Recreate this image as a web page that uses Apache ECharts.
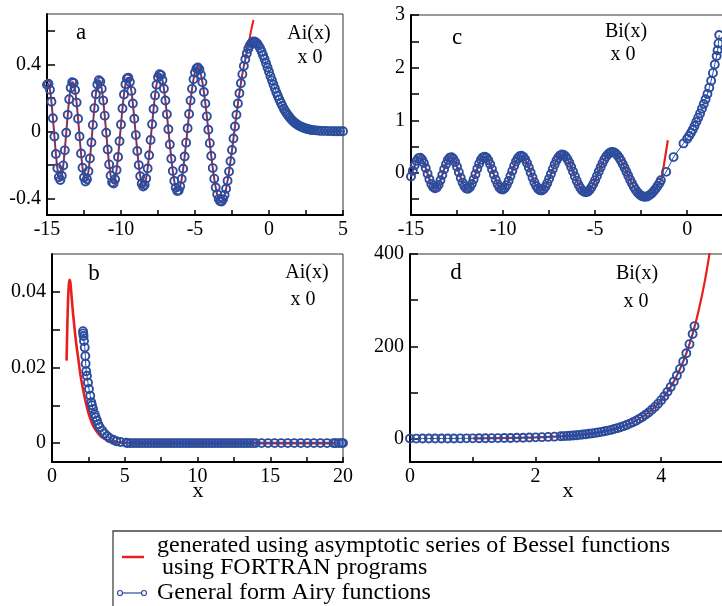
<!DOCTYPE html>
<html><head><meta charset="utf-8">
<script src="https://cdn.jsdelivr.net/npm/echarts@6/dist/echarts.min.js"></script>
<style>html,body{margin:0;padding:0;background:#fff}#c{width:722px;height:606px}</style>
</head><body><div id="c"></div>
<script>
// ---------- data ----------
const oscX = [-15,-14.9,-14.8,-14.7,-14.6,-14.5,-14.4,-14.3,-14.2,-14.1,-14,-13.9,-13.8,-13.7,-13.6,-13.5,-13.4,-13.3,-13.2,-13.1,-13,-12.9,-12.8,-12.7,-12.6,-12.5,-12.4,-12.3,-12.2,-12.1,-12,-11.9,-11.8,-11.7,-11.6,-11.5,-11.4,-11.3,-11.2,-11.1,-11,-10.9,-10.8,-10.7,-10.6,-10.5,-10.4,-10.3,-10.2,-10.1,-10,-9.9,-9.8,-9.7,-9.6,-9.5,-9.4,-9.3,-9.2,-9.1,-9,-8.9,-8.8,-8.7,-8.6,-8.5,-8.4,-8.3,-8.2,-8.1,-8,-7.9,-7.8,-7.7,-7.6,-7.5,-7.4,-7.3,-7.2,-7.1,-7,-6.9,-6.8,-6.7,-6.6,-6.5,-6.4,-6.3,-6.2,-6.1,-6,-5.9,-5.8,-5.7,-5.6,-5.5,-5.4,-5.3,-5.2,-5.1,-5,-4.9,-4.8,-4.7,-4.6,-4.5,-4.4,-4.3,-4.2,-4.1,-4,-3.9,-3.8,-3.7,-3.6,-3.5,-3.4,-3.3,-3.2,-3.1,-3,-2.9,-2.8,-2.7,-2.6,-2.5,-2.4,-2.3,-2.2,-2.1,-2];
const oscAi = [0.278,0.284,0.248,0.176,0.078,-0.031,-0.136,-0.221,-0.275,-0.291,-0.266,-0.204,-0.114,-0.009,0.098,0.191,0.260,0.293,0.288,0.246,0.171,0.075,-0.031,-0.133,-0.218,-0.276,-0.300,-0.287,-0.239,-0.163,-0.067,0.038,0.138,0.221,0.279,0.305,0.297,0.254,0.183,0.093,-0.009,-0.109,-0.198,-0.265,-0.305,-0.312,-0.287,-0.232,-0.154,-0.060,0.040,0.136,0.219,0.280,0.315,0.319,0.294,0.241,0.166,0.075,-0.023,-0.118,-0.202,-0.269,-0.313,-0.330,-0.320,-0.282,-0.222,-0.143,-0.052,0.042,0.133,0.214,0.278,0.322,0.341,0.336,0.306,0.254,0.184,0.101,0.012,-0.079,-0.164,-0.238,-0.297,-0.338,-0.357,-0.354,-0.329,-0.285,-0.224,-0.151,-0.068,0.018,0.103,0.183,0.253,0.310,0.351,0.375,0.381,0.368,0.338,0.292,0.234,0.165,0.089,0.009,-0.071,-0.148,-0.220,-0.283,-0.336,-0.376,-0.404,-0.418,-0.419,-0.405,-0.380,-0.343,-0.296,-0.241,-0.179,-0.112,-0.043,0.028,0.098,0.166,0.227];
const oscBi = [-0.069,0.041,0.145,0.228,0.278,0.287,0.256,0.188,0.093,-0.014,-0.120,-0.209,-0.270,-0.293,-0.277,-0.224,-0.140,-0.039,0.068,0.166,0.243,0.288,0.297,0.268,0.205,0.117,0.014,-0.091,-0.184,-0.255,-0.296,-0.301,-0.272,-0.210,-0.124,-0.024,0.079,0.174,0.248,0.295,0.310,0.291,0.240,0.164,0.071,-0.031,-0.128,-0.213,-0.276,-0.311,-0.315,-0.287,-0.232,-0.154,-0.061,0.038,0.133,0.216,0.279,0.316,0.325,0.305,0.257,0.188,0.102,0.008,-0.087,-0.176,-0.249,-0.302,-0.331,-0.334,-0.310,-0.263,-0.195,-0.113,-0.021,0.071,0.158,0.235,0.294,0.333,0.349,0.342,0.312,0.261,0.194,0.114,0.027,-0.062,-0.147,-0.223,-0.286,-0.333,-0.360,-0.368,-0.356,-0.324,-0.275,-0.212,-0.138,-0.058,0.026,0.108,0.185,0.254,0.312,0.356,0.384,0.397,0.393,0.373,0.340,0.293,0.235,0.169,0.097,0.022,-0.054,-0.129,-0.199,-0.264,-0.321,-0.369,-0.407,-0.434,-0.449,-0.454,-0.451,-0.436,-0.412];

// panel a, general form beyond the oscillations
const aiNearX = [-1.9,-1.8,-1.7,-1.6,-1.5,-1.4,-1.3,-1.2,-1.1,-1.0];
const aiNearY = [0.287,0.341,0.389,0.430,0.464,0.492,0.512,0.526,0.534,0.536];
const aiRightX = [-0.9,-0.8,-0.7,-0.6,-0.5,-0.4,-0.3,-0.2,-0.1,0,0.1,0.2,0.3,0.4,0.5,0.6,0.7,0.8,0.9,1.0,1.1,1.2,1.3,1.4,1.5,1.6,1.7,1.8,1.9,2.0,2.1,2.2,2.3,2.4,2.5,2.6,2.7,2.8,2.9,3.0,3.2,3.4,3.6,3.8,4.0,4.2,4.4,4.6,4.8,5.0];
const aiRightY = [0.532,0.524,0.511,0.495,0.476,0.454,0.431,0.406,0.381,0.355,0.329,0.304,0.279,0.255,0.232,0.210,0.189,0.170,0.152,0.135,0.120,0.106,0.094,0.082,0.072,0.062,0.054,0.047,0.040,0.035,0.030,0.026,0.022,0.018,0.016,0.013,0.011,0.009,0.008,0.007,0.005,0.003,0.002,0.002,0.001,0.001,0.000,0.000,0.000,0.000];
// panel a, asymptotic (red) tail
const aiRedTailX = [-1.9,-1.8,-1.7,-1.6,-1.5,-1.4,-1.3,-1.2,-1.1,-1.05];
const aiRedTailY = [0.287,0.341,0.389,0.430,0.475,0.515,0.560,0.605,0.645,0.665];

// panel c
const biNearX = [-1.9,-1.8,-1.7,-1.6,-1.5];
const biNearY = [-0.381,-0.341,-0.296,-0.246,-0.192];
const biSparseX = [-1.43,-1.14,-0.74,-0.2];
const biSparseY = [-0.14,0.02,0.30,0.56];
const biRightX = [0,0.1,0.2,0.3,0.4,0.5,0.6,0.7,0.8,0.9,1.0,1.1,1.2,1.3,1.4,1.5,1.6,1.65,1.7,1.74];
const biRightY = [0.65,0.70,0.76,0.82,0.89,0.97,1.05,1.13,1.22,1.31,1.40,1.50,1.62,1.75,1.90,2.06,2.22,2.33,2.46,2.62];
const biRedTailX = [-1.45,-1.4,-1.35,-1.3,-1.25,-1.2,-1.15,-1.1,-1.05];
const biRedTailY = [-0.16,-0.09,-0.01,0.08,0.18,0.29,0.40,0.51,0.62];

// panel b
const bBlueX = [2.13,2.15,2.17,2.2,2.25,2.29,2.31,2.35,2.4,2.47,2.54,2.63,2.7,2.75,2.82,2.93,3.0,3.09,3.18,3.28,3.45,3.62,3.8,3.96,4.2,4.42,4.7,5.1,5.2,5.4,5.6,5.8,6,6.2,6.4,6.6,6.8,7,7.2,7.4,7.6,7.8,8,8.2,8.4,8.6,8.8,9,9.2,9.4,9.6,9.8,10,10.2,10.4,10.6,10.8,11,11.2,11.4,11.6,11.8,12,12.2,12.4,12.6,12.8,13,13.2,13.4,13.6,13.8,14,14.4,14.85,15.3,15.75,16.2,16.65,17.1,17.55,18,18.45,18.9,19.35,19.5,19.7,19.9,20];
const bBlueY = [0.0296,0.029,0.0283,0.027,0.0253,0.023,0.021,0.019,0.0178,0.016,0.0143,0.0125,0.0108,0.010,0.009,0.0077,0.0068,0.006,0.005,0.0042,0.0033,0.0025,0.0018,0.0013,0.0009,0.0005,0.0003,0.0001,0,0,0,0,0,0,0,0,0,0,0,0,0,0,0,0,0,0,0,0,0,0,0,0,0,0,0,0,0,0,0,0,0,0,0,0,0,0,0,0,0,0,0,0,0,0,0,0,0,0,0,0,0,0,0,0,0,0,0,0,0,0];
const bRedX = [1.0,1.03,1.06,1.1,1.15,1.2,1.25,1.3,1.4,1.5,1.6,1.7,1.8,1.9,2.0,2.2,2.4,2.6,2.8,3.0,3.3,3.6,4.0,4.5,5.0,6,8,10,12,14,16,18,19.5];
const bRedY = [0.0218,0.027,0.032,0.0375,0.0415,0.0432,0.0428,0.041,0.0362,0.0322,0.0285,0.0252,0.0225,0.0195,0.017,0.013,0.0095,0.0068,0.0048,0.0035,0.002,0.0012,0.0006,0.0002,0.0001,0,0,0,0,0,0,0,0];

// panel d
const dBlueX = [0,0.1,0.2,0.3,0.4,0.5,0.6,0.7,0.8,0.9,1.0,1.1,1.2,1.3,1.4,1.5,1.6,1.7,1.8,1.9,2.0,2.1,2.2,2.3,2.4,2.45,2.5,2.55,2.6,2.65,2.7,2.75,2.8,2.85,2.9,2.95,3.0,3.05,3.1,3.15,3.2,3.25,3.3,3.35,3.4,3.45,3.5,3.55,3.6,3.65,3.7,3.75,3.8,3.85,3.9,3.95,4.0,4.05,4.1,4.15,4.2,4.25,4.3,4.35,4.4,4.45,4.5,4.53];
const dBlueY = [0.615,0.660,0.706,0.753,0.802,0.854,0.911,0.973,1.042,1.120,1.207,1.305,1.421,1.553,1.704,1.879,2.081,2.313,2.582,2.894,3.298,3.74,4.26,4.87,5.58,6.0,6.48,6.95,7.45,8.03,8.67,9.37,10.13,10.97,11.87,12.91,14.04,15.23,16.49,17.93,19.5,21.3,23.2,25.3,27.6,30.2,33.1,36.1,39.5,43.3,47.5,52.1,57.2,62.9,69.2,76.2,83.8,92.4,101.8,112.3,123.9,137.0,151.4,167.5,185.2,205.0,227.0,244.0];
const dRedX = [1.0,1.2,1.4,1.6,1.8,2.0,2.2,2.4,2.6,2.8,3.0,3.2,3.4,3.6,3.8,4.0,4.1,4.2,4.3,4.4,4.5,4.6,4.7,4.8];
const dRedY = [1.21,1.42,1.70,2.08,2.58,3.30,4.26,5.58,7.45,10.13,14.04,19.5,27.6,39.5,57.2,83.8,101.8,123.9,151.4,185.2,227,280,345,427];

// tick positions
const aXMajor = [-15,-10,-5,0,5], aXMinor = [-12.5,-7.5,-2.5,2.5];
const aYMajor = [-0.4,0,0.4], aYMinor = [-0.2,0.2,0.6];
const cXMajor = [-15,-10,-5,0], cXMinor = [-12.5,-7.5,-2.5];
const cYMajor = [0,1,2,3], cYMinor = [-0.5,0.5,1.5,2.5];
const bXMajor = [0,5,10,15,20], bXMinor = [2.5,7.5,12.5,17.5];
const bYMajor = [0,0.02,0.04], bYMinor = [0.01,0.03];
const dXMajor = [0,2,4], dXMinor = [1,3];
const dYMajor = [0,200,400], dYMinor = [100,300];

// ---------- chart ----------
const BLUE = '#2c4d9e', RED = '#e8201c';
const FONT = '"Liberation Serif","Times New Roman",serif';
const zip = (xs, ys) => xs.map((x, i) => [x, ys[i]]);

function ax(gi, min, max, major, minor, isY) {
  return {
    type: 'value', gridIndex: gi, min: min, max: max,
    axisLine: {show: true, onZero: false, lineStyle: {color: '#000', width: 2}},
    axisTick: {show: true, inside: true, length: isY ? 8 : 5, customValues: major.concat(minor), lineStyle: {color: '#000', width: 1.5}},
    axisLabel: {show: true, customValues: major, margin: isY ? 6 : 5, fontFamily: FONT, fontSize: 20, color: '#000', showMinLabel: true, showMaxLabel: true},
    splitLine: {show: false}
  };
}
function grid(l, t, w, h) {
  return {left: l, top: t, width: w, height: h, show: true, borderColor: '#333', borderWidth: 1, backgroundColor: 'transparent', containLabel: false, outerBoundsMode: 'none'};
}
function blue(name, gi, data) {
  return {name: name, type: 'line', xAxisIndex: gi, yAxisIndex: gi, data: data, symbol: 'circle', symbolSize: 8, showAllSymbol: true,
    itemStyle: {color: 'rgba(0,0,0,0)', borderColor: BLUE, borderWidth: 1.9}, lineStyle: {color: BLUE, width: 1}, z: 3, silent: true};
}
function red(name, gi, data, w) {
  return {name: name, type: 'line', xAxisIndex: gi, yAxisIndex: gi, data: data, showSymbol: false, smooth: 0.3,
    lineStyle: {color: RED, width: w}, itemStyle: {color: RED}, z: 2, silent: true};
}
const RED_NAME = 'generated using asymptotic series of Bessel functions using FORTRAN programs';
const BLUE_NAME = 'General form Airy functions';

function txt(s, x, y, size, align) {
  return {type: 'text', x: x, y: y, style: {text: s, font: size + 'px ' + FONT, fill: '#000', textAlign: align || 'center', textVerticalAlign: 'middle'}};
}

const chart = echarts.init(document.getElementById('c'), null, {renderer: 'canvas'});
chart.setOption({
  animation: false,
  backgroundColor: '#fff',
  grid: [grid(47, 14, 296, 201), grid(411, 15, 313, 200), grid(52, 254, 291, 208), grid(410, 254, 314, 208)],
  xAxis: [ax(0, -15, 5, aXMajor, aXMinor, false), ax(1, -15, 2, cXMajor, cXMinor, false), ax(2, 0, 20, bXMajor, bXMinor, false), ax(3, 0, 5, dXMajor, dXMinor, false)],
  yAxis: [ax(0, -0.5, 0.7, aYMajor, aYMinor, true), ax(1, -0.8, 3, cYMajor, cYMinor, true), ax(2, -0.005, 0.05, bYMajor, bYMinor, true), ax(3, -50, 400, dYMajor, dYMinor, true)],
  series: [
    red(RED_NAME, 0, zip(oscX, oscAi).concat(zip(aiRedTailX, aiRedTailY)), 2),
    blue(BLUE_NAME, 0, zip(oscX, oscAi).concat(zip(aiNearX, aiNearY), zip(aiRightX, aiRightY))),
    red(RED_NAME, 1, zip(oscX, oscBi).concat(zip(biNearX, biNearY), zip(biRedTailX, biRedTailY)), 2.2),
    blue(BLUE_NAME, 1, zip(oscX, oscBi).concat(zip(biNearX, biNearY), zip(biSparseX, biSparseY), zip(biRightX, biRightY))),
    red(RED_NAME, 2, zip(bRedX, bRedY), 2.6),
    blue(BLUE_NAME, 2, zip(bBlueX, bBlueY)),
    red(RED_NAME, 3, zip(dRedX, dRedY), 2.2),
    blue(BLUE_NAME, 3, zip(dBlueX, dBlueY))
  ],
  graphic: [
    txt('a', 81, 33, 23), txt('Ai(x)', 309, 34, 20), txt('x 0', 310, 58, 20),
    txt('c', 457, 38, 23), txt('Bi(x)', 626, 32, 20), txt('x 0', 623, 55, 20),
    txt('b', 94, 274, 23), txt('Ai(x)', 307, 273, 20), txt('x 0', 303, 300, 20),
    txt('d', 456, 273, 23), txt('Bi(x)', 637, 274, 20), txt('x 0', 636, 302, 20),
    txt('x', 198, 491, 22), txt('x', 568, 491, 22),
    {type: 'rect', shape: {x: 113, y: 531, width: 700, height: 120}, style: {fill: 'none', stroke: '#444', lineWidth: 1.3}},
    {type: 'line', shape: {x1: 122, y1: 557, x2: 144, y2: 557}, style: {stroke: RED, lineWidth: 2.5}},
    {type: 'line', shape: {x1: 120, y1: 593, x2: 144, y2: 593}, style: {stroke: BLUE, lineWidth: 1.2}},
    {type: 'circle', shape: {cx: 120, cy: 593, r: 2.5}, style: {fill: '#fff', stroke: BLUE, lineWidth: 1.2}},
    {type: 'circle', shape: {cx: 144, cy: 593, r: 2.5}, style: {fill: '#fff', stroke: BLUE, lineWidth: 1.2}},
    txt('generated using asymptotic series of Bessel functions', 157, 546, 24, 'left'),
    txt('using FORTRAN programs', 162, 568, 24, 'left'),
    txt('General form Airy functions', 157, 593, 24, 'left')
  ]
});
</script></body></html>
